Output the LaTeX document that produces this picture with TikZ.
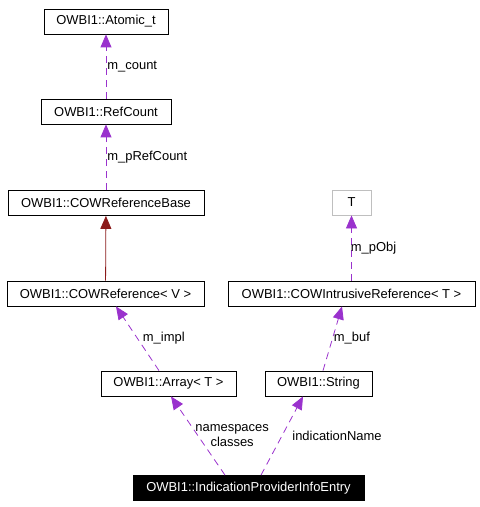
\documentclass[tikz,border=0pt]{standalone}
\usepackage{fontspec}
\setmainfont{Liberation Sans}
\usetikzlibrary{arrows.meta}
\definecolor{memcol}{HTML}{9A32CD}
\definecolor{inhcol}{HTML}{8B1A1A}
\definecolor{extcol}{HTML}{BFBFBF}
\tikzset{
  classbox/.style={draw,line width=0.8bp,minimum height=25bp,inner sep=0pt,
    font=\fontsize{13}{14.5}\selectfont},
  extbox/.style={classbox,draw=extcol},
  rootbox/.style={classbox,fill=black,text=white},
  member/.style={memcol,line width=0.8bp,dash pattern=on 7bp off 5bp,
    -{Triangle[width=11bp,length=13bp]}},
  inherit/.style={inhcol,line width=0.8bp,-{Triangle[width=11bp,length=13bp]}},
  lbl/.style={text=black,font=\fontsize{13}{14.5}\selectfont,inner sep=1bp}
}
\begin{document}
\begin{tikzpicture}[x=1bp,y=-1bp]
    \useasboundingbox (0,0) rectangle (480,507);
    \node[classbox,minimum width=124bp] (atomic) at (106,21.5) {OWBI1::Atomic\_t};
    \node[classbox,minimum width=130bp] (refcount) at (106,111.5) {OWBI1::RefCount};
    \node[classbox,minimum width=196bp] (cowbase) at (106,203) {OWBI1::COWReferenceBase};
    \node[classbox,minimum width=197bp] (cowref) at (105.5,293.5) {OWBI1::COWReference< V >};
    \node[extbox,minimum width=39bp] (tobj) at (351.5,202.5) {T};
    \node[classbox,minimum width=247bp] (cowintr) at (351.5,293.5) {OWBI1::COWIntrusiveReference< T >};
    \node[classbox,minimum width=135bp] (array) at (168.5,383.5) {OWBI1::Array< T >};
    \node[classbox,minimum width=107bp] (string) at (318.5,383.5) {OWBI1::String};
    \node[rootbox,minimum width=231bp] (entry) at (248.5,488) {OWBI1::IndicationProviderInfoEntry};
    % members
    \draw[member] (refcount) -- node[lbl,anchor=west,pos=0.5] {m\_count} (atomic);
    \draw[member] (cowbase) -- node[lbl,anchor=west,pos=0.5] {m\_pRefCount} (refcount);
    \draw[inherit] (cowref) -- (cowbase);
    \draw[member] (cowintr) -- node[lbl,anchor=west,pos=0.5,xshift=-2bp] {m\_pObj} (tobj);
    \draw[member] ([xshift=-9.5bp]array.north) -- node[lbl,anchor=west,pos=0.5,xshift=4bp] {m\_impl} ([xshift=10.5bp]cowref.south);
    \draw[member] ([xshift=4.5bp]string.north) -- node[lbl,anchor=west,pos=0.5] {m\_buf} ([xshift=-9.5bp]cowintr.south);
    \draw[member] ([xshift=-23.5bp]entry.north) -- node[lbl,anchor=west,pos=0.5,align=center,xshift=-4bp] {namespaces\\classes} ([xshift=2.5bp]array.south);
    \draw[member] ([xshift=12.5bp]entry.north) -- node[lbl,anchor=west,pos=0.5,xshift=9bp] {indicationName} ([xshift=-15.5bp]string.south);
\end{tikzpicture}
\end{document}
